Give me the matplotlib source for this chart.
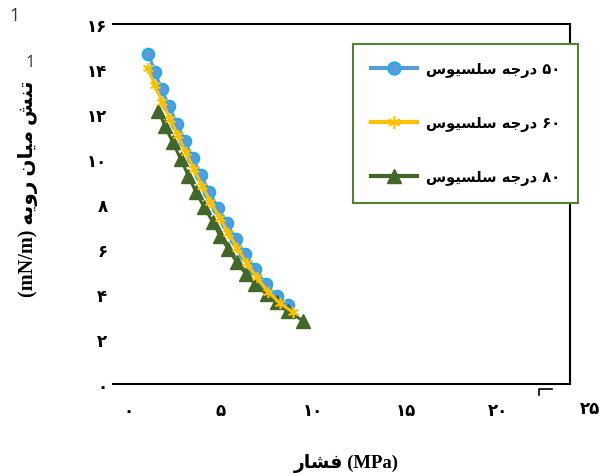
import numpy as np
import matplotlib
matplotlib.use("Agg")
import matplotlib.pyplot as plt
from matplotlib.lines import Line2D

# ── data ───────────────────────────────────────────────────────────────────
x_50 = [1.10, 1.46, 1.82, 2.23, 2.66, 3.08, 3.50, 3.95, 4.39, 4.88, 5.34,
        5.84, 6.32, 6.86, 7.46, 8.04, 8.66]
y_50 = [14.67, 13.88, 13.11, 12.34, 11.56, 10.81, 10.03, 9.29, 8.55, 7.82,
        7.14, 6.44, 5.78, 5.11, 4.44, 3.92, 3.51]

x_60 = [1.08, 1.45, 1.85, 2.27, 2.70, 3.13, 3.56, 4.01, 4.46, 4.95, 5.42,
        5.92, 6.42, 6.97, 7.58, 8.20, 8.90]
y_60 = [14.04, 13.30, 12.55, 11.80, 11.05, 10.30, 9.55, 8.82, 8.10, 7.40,
        6.72, 6.04, 5.38, 4.74, 4.10, 3.60, 3.20]

x_80 = [1.64, 1.99, 2.42, 2.85, 3.26, 3.68, 4.12, 4.58, 4.97, 5.42, 5.88,
        6.38, 6.86, 7.50, 8.04, 8.66, 9.44]
y_80 = [12.15, 11.48, 10.74, 10.00, 9.26, 8.52, 7.85, 7.21, 6.59, 6.00,
        5.41, 4.89, 4.44, 4.00, 3.63, 3.26, 2.81]

series_labels = ["۵۰ درجه سلسیوس", "۶۰ درجه سلسیوس", "۸۰ درجه سلسیوس"]
x_ticks = [0, 5, 10, 15, 20, 25]
y_ticks = [0, 2, 4, 6, 8, 10, 12, 14, 16]
x_title = "فشار"
y_title = "تنش میان رویه"

# ── minimal Persian shaping (matplotlib has no bidi / shaping) ─────────────
FORMS = {  # isolated, final, initial, medial
    "ا": ("\uFE8D", "\uFE8E", None, None),
    "ر": ("\uFEAD", "\uFEAE", None, None),
    "د": ("\uFEA9", "\uFEAA", None, None),
    "و": ("\uFEED", "\uFEEE", None, None),
    "ف": ("\uFED1", "\uFED2", "\uFED3", "\uFED4"),
    "ش": ("\uFEB5", "\uFEB6", "\uFEB7", "\uFEB8"),
    "ت": ("\uFE95", "\uFE96", "\uFE97", "\uFE98"),
    "ن": ("\uFEE5", "\uFEE6", "\uFEE7", "\uFEE8"),
    "م": ("\uFEE1", "\uFEE2", "\uFEE3", "\uFEE4"),
    "ی": ("\uFEEF", "\uFEF0", "\uFEF3", "\uFEF4"),
    "ه": ("\uFEE9", "\uFEEA", "\uFEEB", "\uFEEC"),
    "ج": ("\uFE9D", "\uFE9E", "\uFE9F", "\uFEA0"),
    "س": ("\uFEB1", "\uFEB2", "\uFEB3", "\uFEB4"),
    "ل": ("\uFEDD", "\uFEDE", "\uFEDF", "\uFEE0"),
}


def shape_word(w):
    out = []
    for i, ch in enumerate(w):
        if ch not in FORMS:
            out.append(ch)
            continue
        prev_ok = i > 0 and w[i - 1] in FORMS and FORMS[w[i - 1]][2] is not None
        next_ok = i < len(w) - 1 and w[i + 1] in FORMS and FORMS[ch][2] is not None
        iso, fin, ini, med = FORMS[ch]
        if prev_ok and next_ok:
            out.append(med)
        elif prev_ok:
            out.append(fin)
        elif next_ok:
            out.append(ini)
        else:
            out.append(iso)
    return "".join(out)


def fa(s):
    words = s.split(" ")[::-1]
    vis = []
    for w in words:
        if any(c in FORMS for c in w):
            vis.append(shape_word(w)[::-1])
        else:
            vis.append(w)
    return " ".join(vis)


def fa_num(n):
    return "".join("۰۱۲۳۴۵۶۷۸۹"[int(d)] for d in str(n))


# ── figure ─────────────────────────────────────────────────────────────────
fig = plt.figure(figsize=(6.06, 4.77), dpi=100)
ax = fig.add_axes([113 / 606, 1 - 385 / 477, 457 / 606, 360 / 477])

BLUE, BLUE_EDGE = "#5B9BD5", "#1AAEEB"
YELLOW = "#FFC000"
GREEN = "#43672A"

ax.plot(x_50, y_50, color=BLUE, lw=2.2, marker="o", ms=8.5,
        mfc=BLUE, mec=BLUE_EDGE, mew=1.3, zorder=3)
ax.plot(x_80, y_80, color=GREEN, lw=2.2, marker="^", ms=10,
        mfc=GREEN, mec=GREEN, zorder=4)
ax.plot(x_60, y_60, color=YELLOW, lw=2.2, marker=(6, 2, 0), ms=8,
        mec=YELLOW, mew=1.2, zorder=5)

ax.set_xlim(-0.81, 23.9)
ax.set_ylim(0, 16)

ax.spines["left"].set_visible(False)
for s in ("top", "bottom", "right"):
    ax.spines[s].set_linewidth(1.5)
    ax.spines[s].set_color("black")

tick_font = dict(family="DejaVu Sans", weight="bold", size=12)
ax.set_xticks(x_ticks[:-1])
ax.set_xticklabels([fa_num(v) for v in x_ticks[:-1]], **tick_font)
ax.set_yticks(y_ticks)
ax.set_yticklabels([fa_num(v) for v in y_ticks], **tick_font)
ax.tick_params(axis="both", length=0)
ax.tick_params(axis="x", pad=12)
ax.tick_params(axis="y", pad=4)
# last x label sits past the frame
ax.text(x_ticks[-1], -24 / 22.5, fa_num(x_ticks[-1]), ha="center",
        va="center", clip_on=False, **tick_font)

lab_font = dict(family=["Liberation Serif", "DejaVu Sans"], weight="bold",
                size=13.5)
fig.text(346 / 606, 1 - 464 / 477, fa(x_title) + " (MPa)", ha="center",
         va="center", **lab_font)
fig.text(28 / 606, 1 - 189 / 477, "(mN/m) " + fa(y_title), ha="center",
         va="center", rotation=90, **dict(lab_font, size=14.5))

# stray marks left in the source image
fig.text(15 / 606, 1 - 16 / 477, "1", family="Open Sans", size=13,
         ha="center", va="center", color="#333333")
fig.text(30 / 606, 1 - 63 / 477, "1", family="Open Sans", size=12,
         ha="center", va="center", color="#333333")
fig.add_artist(Line2D([539 / 606, 539 / 606, 552 / 606],
                      [1 - 396 / 477, 1 - 390 / 477, 1 - 390 / 477],
                      color="black", lw=1.2))

# legend
handles = [
    Line2D([], [], color=BLUE, lw=3, marker="o", ms=9, mfc=BLUE,
           mec=BLUE_EDGE, mew=1.3),
    Line2D([], [], color=YELLOW, lw=3, marker=(6, 2, 0), ms=9,
           mec=YELLOW, mew=1.2),
    Line2D([], [], color=GREEN, lw=3, marker="^", ms=10, mfc=GREEN,
           mec=GREEN),
]
leg = fig.legend(handles, [fa(l) for l in series_labels],
                 loc="upper left", bbox_to_anchor=(353 / 606, 1 - 45 / 477),
                 borderaxespad=0, frameon=True, fancybox=False,
                 framealpha=1, edgecolor="#548235",
                 prop=dict(family="DejaVu Sans", weight="bold", size=10.5),
                 handlelength=3.2, handletextpad=0.6, labelspacing=2.6,
                 borderpad=1.2)
leg.get_frame().set_linewidth(1.5)
leg.set_zorder(10)

fig.savefig("out.png", dpi=100)
